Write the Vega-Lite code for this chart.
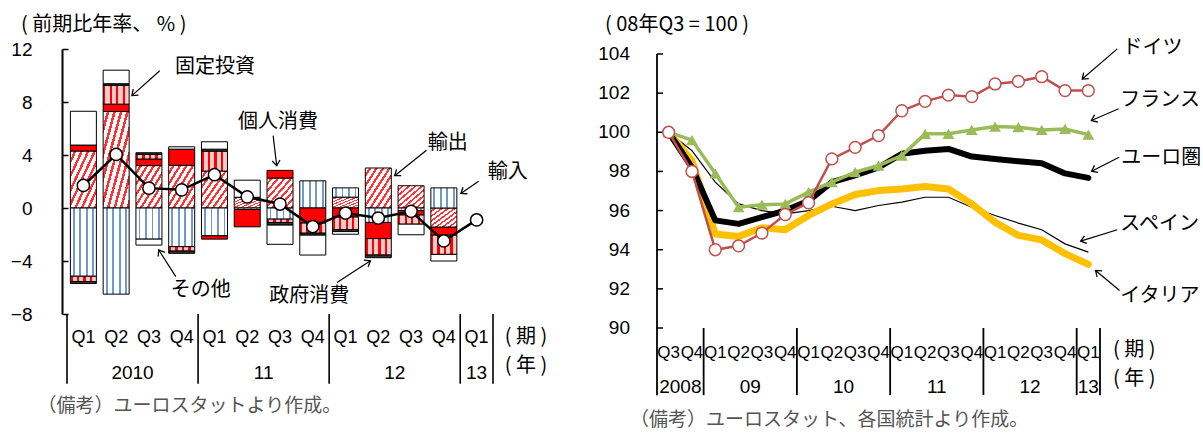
{
 "$schema": "https://vega.github.io/schema/vega-lite/v6.json",
 "background": "white",
 "padding": {"left": 10, "top": 14, "right": 0, "bottom": 0},
 "columns": 2,
 "align": "none",
 "bounds": "full",
 "spacing": 50,
 "config": {"view": {"stroke": null}},
 "concat": [
  {
   "width": 436, "height": 265,
   "layer": [
    {
     "data": {"values": [
      {"x":0.5,"c":"輸出","o":1,"v":4.3},{"x":0.5,"c":"輸入","o":2,"v":-5.15},{"x":0.5,"c":"個人消費","o":3,"v":0.45},{"x":0.5,"c":"固定投資","o":4,"v":-0.4},{"x":0.5,"c":"政府消費","o":5,"v":-0.15},{"x":0.5,"c":"その他","o":6,"v":2.55},
      {"x":1.5,"c":"輸出","o":1,"v":7.28},{"x":1.5,"c":"輸入","o":2,"v":-6.5},{"x":1.5,"c":"個人消費","o":3,"v":0.56},{"x":1.5,"c":"固定投資","o":4,"v":1.42},{"x":1.5,"c":"政府消費","o":5,"v":0.12},{"x":1.5,"c":"その他","o":6,"v":1.02},
      {"x":2.5,"c":"輸出","o":1,"v":3.2},{"x":2.5,"c":"輸入","o":2,"v":-2.35},{"x":2.5,"c":"個人消費","o":3,"v":0.5},{"x":2.5,"c":"固定投資","o":4,"v":0.35},{"x":2.5,"c":"政府消費","o":5,"v":0.12},{"x":2.5,"c":"その他","o":6,"v":-0.45},
      {"x":3.5,"c":"輸出","o":1,"v":3.22},{"x":3.5,"c":"輸入","o":2,"v":-2.92},{"x":3.5,"c":"個人消費","o":3,"v":1.22},{"x":3.5,"c":"固定投資","o":4,"v":-0.33},{"x":3.5,"c":"政府消費","o":5,"v":-0.17},{"x":3.5,"c":"その他","o":6,"v":0.18},
      {"x":4.5,"c":"輸出","o":1,"v":2.79},{"x":4.5,"c":"輸入","o":2,"v":-2.1},{"x":4.5,"c":"個人消費","o":3,"v":-0.25},{"x":4.5,"c":"固定投資","o":4,"v":1.5},{"x":4.5,"c":"政府消費","o":5,"v":0.15},{"x":4.5,"c":"その他","o":6,"v":0.56},
      {"x":5.5,"c":"輸出","o":1,"v":0.81},{"x":5.5,"c":"輸入","o":2,"v":-0.12},{"x":5.5,"c":"個人消費","o":3,"v":-1.3},{"x":5.5,"c":"その他","o":6,"v":1.29},
      {"x":6.5,"c":"輸出","o":1,"v":2.26},{"x":6.5,"c":"輸入","o":2,"v":-0.84},{"x":6.5,"c":"個人消費","o":3,"v":0.58},{"x":6.5,"c":"固定投資","o":4,"v":-0.25},{"x":6.5,"c":"政府消費","o":5,"v":-0.2},{"x":6.5,"c":"その他","o":6,"v":-1.45},
      {"x":7.5,"c":"輸入","o":2,"v":2.05},{"x":7.5,"c":"個人消費","o":3,"v":-1.14},{"x":7.5,"c":"固定投資","o":4,"v":-0.76},{"x":7.5,"c":"政府消費","o":5,"v":-0.15},{"x":7.5,"c":"その他","o":6,"v":-1.5},
      {"x":8.5,"c":"輸出","o":1,"v":0.82},{"x":8.5,"c":"輸入","o":2,"v":0.7},{"x":8.5,"c":"個人消費","o":3,"v":-0.68},{"x":8.5,"c":"固定投資","o":4,"v":-0.95},{"x":8.5,"c":"政府消費","o":5,"v":-0.15},{"x":8.5,"c":"その他","o":6,"v":-0.2},
      {"x":9.5,"c":"輸出","o":1,"v":3.02},{"x":9.5,"c":"輸入","o":2,"v":-1.09},{"x":9.5,"c":"個人消費","o":3,"v":-1.22},{"x":9.5,"c":"固定投資","o":4,"v":-1.24},{"x":9.5,"c":"政府消費","o":5,"v":-0.2},
      {"x":10.5,"c":"輸出","o":1,"v":1.68},{"x":10.5,"c":"輸入","o":2,"v":-0.2},{"x":10.5,"c":"個人消費","o":3,"v":-0.33},{"x":10.5,"c":"固定投資","o":4,"v":-0.69},{"x":10.5,"c":"その他","o":6,"v":-0.8},
      {"x":11.5,"c":"輸出","o":1,"v":-1.45},{"x":11.5,"c":"輸入","o":2,"v":1.52},{"x":11.5,"c":"個人消費","o":3,"v":-0.6},{"x":11.5,"c":"固定投資","o":4,"v":-1.45},{"x":11.5,"c":"その他","o":6,"v":-0.5}
     ]},
     "transform": [{"stack": "v", "groupby": ["x"], "sort": [{"field": "o", "order": "ascending"}], "as": ["v0", "v1"]}],
     "encoding": {
      "x": {"field": "x", "type": "quantitative", "scale": {"domain": [0, 13], "nice": false, "zero": false}, "axis": null},
      "y": {"field": "v0", "type": "quantitative", "title": null, "scale": {"domain": [-8, 12], "nice": false, "zero": false},
            "axis": {"values": [-8, -4, 0, 4, 8, 12], "title": null, "grid": false, "labelOverlap": false, "domainColor": "black", "domainWidth": 2, "tickColor": "black", "tickSize": -6, "tickWidth": 1.5, "labelFont": "Liberation Sans", "labelFontSize": 19, "labelColor": "black", "labelPadding": 36}},
      "y2": {"field": "v1"}
     },
     "layer": [
      {"transform": [{"filter": "datum.c === '輸出'"}],
       "mark": {"type": "bar", "width": 26, "stroke": "black", "strokeWidth": 1,
        "fill": {"gradient": "linear", "x1": 0, "y1": 0, "x2": 1, "y2": 1, "stops": [
         {"offset":0,"color":"#fff"},{"offset":0.07,"color":"#fff"},{"offset":0.07,"color":"#f33"},{"offset":0.12,"color":"#f33"},{"offset":0.12,"color":"#fff"},
         {"offset":0.195,"color":"#fff"},{"offset":0.195,"color":"#f33"},{"offset":0.245,"color":"#f33"},{"offset":0.245,"color":"#fff"},
         {"offset":0.32,"color":"#fff"},{"offset":0.32,"color":"#f33"},{"offset":0.37,"color":"#f33"},{"offset":0.37,"color":"#fff"},
         {"offset":0.445,"color":"#fff"},{"offset":0.445,"color":"#f33"},{"offset":0.495,"color":"#f33"},{"offset":0.495,"color":"#fff"},
         {"offset":0.57,"color":"#fff"},{"offset":0.57,"color":"#f33"},{"offset":0.62,"color":"#f33"},{"offset":0.62,"color":"#fff"},
         {"offset":0.695,"color":"#fff"},{"offset":0.695,"color":"#f33"},{"offset":0.745,"color":"#f33"},{"offset":0.745,"color":"#fff"},
         {"offset":0.82,"color":"#fff"},{"offset":0.82,"color":"#f33"},{"offset":0.87,"color":"#f33"},{"offset":0.87,"color":"#fff"},
         {"offset":0.945,"color":"#fff"},{"offset":0.945,"color":"#f33"},{"offset":0.995,"color":"#f33"},{"offset":0.995,"color":"#fff"},{"offset":1,"color":"#fff"}]}}},
      {"transform": [{"filter": "datum.c === '輸入'"}],
       "mark": {"type": "bar", "width": 26, "stroke": "black", "strokeWidth": 1,
        "fill": {"gradient": "linear", "x1": 0, "y1": 0, "x2": 1, "y2": 0, "stops": [
         {"offset":0,"color":"#fff"},{"offset":0.1,"color":"#fff"},{"offset":0.1,"color":"#6f9ad0"},{"offset":0.17,"color":"#6f9ad0"},{"offset":0.17,"color":"#fff"},
         {"offset":0.35,"color":"#fff"},{"offset":0.35,"color":"#6f9ad0"},{"offset":0.42,"color":"#6f9ad0"},{"offset":0.42,"color":"#fff"},
         {"offset":0.6,"color":"#fff"},{"offset":0.6,"color":"#6f9ad0"},{"offset":0.67,"color":"#6f9ad0"},{"offset":0.67,"color":"#fff"},
         {"offset":0.85,"color":"#fff"},{"offset":0.85,"color":"#6f9ad0"},{"offset":0.92,"color":"#6f9ad0"},{"offset":0.92,"color":"#fff"},{"offset":1,"color":"#fff"}]}}},
      {"transform": [{"filter": "datum.c === '個人消費'"}],
       "mark": {"type": "bar", "width": 26, "stroke": "black", "strokeWidth": 1, "fill": "#ff0000"}},
      {"transform": [{"filter": "datum.c === '固定投資'"}],
       "mark": {"type": "bar", "width": 26, "stroke": "black", "strokeWidth": 1,
        "fill": {"gradient": "linear", "x1": 0, "y1": 0, "x2": 1, "y2": 0, "stops": [
         {"offset":0,"color":"#f00"},{"offset":0.09,"color":"#f00"},{"offset":0.09,"color":"#fbcaca"},{"offset":0.25,"color":"#fbcaca"},{"offset":0.25,"color":"#f00"},
         {"offset":0.34,"color":"#f00"},{"offset":0.34,"color":"#fbcaca"},{"offset":0.5,"color":"#fbcaca"},{"offset":0.5,"color":"#f00"},
         {"offset":0.59,"color":"#f00"},{"offset":0.59,"color":"#fbcaca"},{"offset":0.75,"color":"#fbcaca"},{"offset":0.75,"color":"#f00"},
         {"offset":0.84,"color":"#f00"},{"offset":0.84,"color":"#fbcaca"},{"offset":1,"color":"#fbcaca"}]}}},
      {"transform": [{"filter": "datum.c === '政府消費'"}],
       "mark": {"type": "bar", "width": 26, "stroke": "black", "strokeWidth": 1, "fill": "#333333"}},
      {"transform": [{"filter": "datum.c === 'その他'"}],
       "mark": {"type": "bar", "width": 26, "stroke": "black", "strokeWidth": 1, "fill": "#ffffff"}}
     ]
    },
    {
     "mark": {"type": "rule", "color": "black", "strokeWidth": 2},
     "encoding": {"y": {"datum": 0, "type": "quantitative", "scale": {"domain": [-8, 12], "nice": false, "zero": false}}}
    },
    {
     "data": {"values": [
      {"x":0.5,"g":1.7},{"x":1.5,"g":4.04},{"x":2.5,"g":1.5},{"x":3.5,"g":1.37},{"x":4.5,"g":2.51},{"x":5.5,"g":0.84},{"x":6.5,"g":0.3},
      {"x":7.5,"g":-1.4},{"x":8.5,"g":-0.38},{"x":9.5,"g":-0.76},{"x":10.5,"g":-0.25},{"x":11.5,"g":-2.49},{"x":12.5,"g":-0.9}
     ]},
     "mark": {"type": "line", "color": "black", "strokeWidth": 2.5,
              "point": {"filled": true, "fill": "white", "stroke": "black", "strokeWidth": 1.5, "size": 150, "opacity": 1}},
     "encoding": {
      "x": {"field": "x", "type": "quantitative", "scale": {"domain": [0, 13], "nice": false, "zero": false}, "axis": null},
      "y": {"field": "g", "type": "quantitative", "title": null, "scale": {"domain": [-8, 12], "nice": false, "zero": false}}
     }
    },
    {
     "data": {"values": [{"x":0},{"x":4},{"x":8},{"x":12},{"x":13}]},
     "mark": {"type": "rule", "color": "black", "strokeWidth": 1.6},
     "encoding": {
      "x": {"field": "x", "type": "quantitative", "scale": {"domain": [0, 13], "nice": false, "zero": false}, "axis": null},
      "y": {"datum": -8, "type": "quantitative", "scale": {"domain": [-8, 12], "nice": false, "zero": false}},
      "y2": {"datum": -13.26}
     }
    },
    {
     "data": {"values": [
      {"x":0.5,"t":"Q1"},{"x":1.5,"t":"Q2"},{"x":2.5,"t":"Q3"},{"x":3.5,"t":"Q4"},{"x":4.5,"t":"Q1"},{"x":5.5,"t":"Q2"},{"x":6.5,"t":"Q3"},
      {"x":7.5,"t":"Q4"},{"x":8.5,"t":"Q1"},{"x":9.5,"t":"Q2"},{"x":10.5,"t":"Q3"},{"x":11.5,"t":"Q4"},{"x":12.5,"t":"Q1"}
     ]},
     "mark": {"type": "text", "font": "Liberation Sans", "fontSize": 18, "color": "black", "align": "center", "baseline": "middle"},
     "encoding": {
      "x": {"field": "x", "type": "quantitative", "scale": {"domain": [0, 13], "nice": false, "zero": false}, "axis": null},
      "y": {"datum": -9.83, "type": "quantitative", "scale": {"domain": [-8, 12], "nice": false, "zero": false}},
      "text": {"field": "t"}
     }
    },
    {
     "data": {"values": [{"x":2,"t":"2010"},{"x":6,"t":"11"},{"x":10,"t":"12"},{"x":12.5,"t":"13"}]},
     "mark": {"type": "text", "font": "Liberation Sans", "fontSize": 19, "color": "black", "align": "center", "baseline": "middle"},
     "encoding": {
      "x": {"field": "x", "type": "quantitative", "scale": {"domain": [0, 13], "nice": false, "zero": false}, "axis": null},
      "y": {"datum": -12.47, "type": "quantitative", "scale": {"domain": [-8, 12], "nice": false, "zero": false}},
      "text": {"field": "t"}
     }
    },
    {
     "data": {"values": [
      {"x":14.01,"y":-9.75,"t":"( 期 )"},
      {"x":14.01,"y":-11.94,"t":"( 年 )"}
     ]},
     "mark": {"type": "text", "font": "Noto Sans CJK JP", "fontSize": 20, "color": "black", "align": "center", "baseline": "middle"},
     "encoding": {
      "x": {"field": "x", "type": "quantitative", "scale": {"domain": [0, 13], "nice": false, "zero": false}, "axis": null},
      "y": {"field": "y", "type": "quantitative", "scale": {"domain": [-8, 12], "nice": false, "zero": false}},
      "text": {"field": "t"}
     }
    },
    {
     "data": {"values": [{"x":-1.4,"y":13.83,"t":"( 前期比年率、 % )"}]},
     "mark": {"type": "text", "font": "Noto Sans CJK JP", "fontSize": 20, "color": "black", "align": "left", "baseline": "middle"},
     "encoding": {
      "x": {"field": "x", "type": "quantitative", "scale": {"domain": [0, 13], "nice": false, "zero": false}, "axis": null},
      "y": {"field": "y", "type": "quantitative", "scale": {"domain": [-8, 12], "nice": false, "zero": false}},
      "text": {"field": "t"}
     }
    },
    {
     "data": {"values": [{"x":-0.9,"y":-14.92,"t":"（備考）ユーロスタットより作成。"}]},
     "mark": {"type": "text", "font": "Noto Sans CJK JP", "fontSize": 19, "color": "#555555", "align": "left", "baseline": "middle"},
     "encoding": {
      "x": {"field": "x", "type": "quantitative", "scale": {"domain": [0, 13], "nice": false, "zero": false}, "axis": null},
      "y": {"field": "y", "type": "quantitative", "scale": {"domain": [-8, 12], "nice": false, "zero": false}},
      "text": {"field": "t"}
     }
    },
    {
     "data": {"values": [
      {"t":"固定投資","tx":4.52,"ty":10.61,"x1":2.83,"y1":10.36,"x2":1.98,"y2":8.48,"a":139},
      {"t":"個人消費","tx":6.44,"ty":6.51,"x1":6.29,"y1":5.46,"x2":6.4,"y2":3.19,"a":83},
      {"t":"輸出","tx":11.62,"ty":4.93,"x1":10.97,"y1":4.36,"x2":10.0,"y2":2.44,"a":143},
      {"t":"輸入","tx":13.45,"ty":2.74,"x1":12.56,"y1":2.01,"x2":12.02,"y2":1.1,"a":146},
      {"t":"その他","tx":4.08,"ty":-6.17,"x1":3.32,"y1":-5.18,"x2":2.8,"y2":-3.17,"a":238},
      {"t":"政府消費","tx":7.39,"ty":-6.66,"x1":8.24,"y1":-5.62,"x2":9.26,"y2":-3.98,"a":-32}
     ]},
     "layer": [
      {"mark": {"type": "rule", "color": "black", "strokeWidth": 1.2},
       "encoding": {
        "x": {"field": "x1", "type": "quantitative", "scale": {"domain": [0, 13], "nice": false, "zero": false}, "axis": null},
        "y": {"field": "y1", "type": "quantitative", "scale": {"domain": [-8, 12], "nice": false, "zero": false}},
        "x2": {"field": "x2"}, "y2": {"field": "y2"}}},
      {"mark": {"type": "point", "shape": "M-1,-0.75L0,0L-1,0.75", "filled": false, "stroke": "black", "strokeWidth": 1.3, "size": 110, "opacity": 1},
       "encoding": {
        "x": {"field": "x2", "type": "quantitative", "scale": {"domain": [0, 13], "nice": false, "zero": false}, "axis": null},
        "y": {"field": "y2", "type": "quantitative", "scale": {"domain": [-8, 12], "nice": false, "zero": false}},
        "angle": {"field": "a", "type": "quantitative", "scale": null}}},
      {"mark": {"type": "text", "font": "Noto Sans CJK JP", "fontSize": 20, "color": "black", "align": "center", "baseline": "middle"},
       "encoding": {
        "x": {"field": "tx", "type": "quantitative", "scale": {"domain": [0, 13], "nice": false, "zero": false}, "axis": null},
        "y": {"field": "ty", "type": "quantitative", "scale": {"domain": [-8, 12], "nice": false, "zero": false}},
        "text": {"field": "t"}}}
     ]
    }
   ]
  },
  {
   "width": 443, "height": 279,
   "layer": [
    {
     "mark": {"type": "rule", "color": "black", "strokeWidth": 1.6},
     "encoding": {"y": {"datum": 100, "type": "quantitative", "scale": {"domain": [90, 104.255], "nice": false, "zero": false}, "axis": null}}
    },
    {
     "data": {"values": [{"y":90},{"y":92},{"y":94},{"y":96},{"y":98},{"y":100},{"y":102},{"y":104}]},
     "layer": [
      {"mark": {"type": "rule", "color": "black", "strokeWidth": 1.5},
       "encoding": {
        "x": {"datum": 0, "type": "quantitative", "scale": {"domain": [0, 19], "nice": false, "zero": false}, "axis": null},
        "x2": {"datum": 0.26},
        "y": {"field": "y", "type": "quantitative", "scale": {"domain": [90, 104.255], "nice": false, "zero": false}, "axis": null}}},
      {"mark": {"type": "text", "font": "Liberation Sans", "fontSize": 19, "color": "black", "align": "right", "baseline": "middle"},
       "encoding": {
        "x": {"datum": -1.16, "type": "quantitative", "scale": {"domain": [0, 19], "nice": false, "zero": false}, "axis": null},
        "y": {"field": "y", "type": "quantitative", "scale": {"domain": [90, 104.255], "nice": false, "zero": false}, "axis": null},
        "text": {"field": "y", "type": "quantitative"}}}
     ]
    },
    {
     "data": {"values": [
      {"c":"ES","x":0.5,"v":100},{"c":"ES","x":1.5,"v":99.06},{"c":"ES","x":2.5,"v":97.45},{"c":"ES","x":3.5,"v":96.34},{"c":"ES","x":4.5,"v":96.0},{"c":"ES","x":5.5,"v":95.83},{"c":"ES","x":6.5,"v":96.0},{"c":"ES","x":7.5,"v":96.22},{"c":"ES","x":8.5,"v":96.0},{"c":"ES","x":9.5,"v":96.26},{"c":"ES","x":10.5,"v":96.43},{"c":"ES","x":11.5,"v":96.68},{"c":"ES","x":12.5,"v":96.68},{"c":"ES","x":13.5,"v":96.17},{"c":"ES","x":14.5,"v":95.75},{"c":"ES","x":15.5,"v":95.36},{"c":"ES","x":16.5,"v":95.02},{"c":"ES","x":17.5,"v":94.3},{"c":"ES","x":18.5,"v":93.88},
      {"c":"IT","x":0.5,"v":100},{"c":"IT","x":1.5,"v":98.55},{"c":"IT","x":2.5,"v":94.8},{"c":"IT","x":3.5,"v":94.68},{"c":"IT","x":4.5,"v":95.12},{"c":"IT","x":5.5,"v":95.02},{"c":"IT","x":6.5,"v":95.75},{"c":"IT","x":7.5,"v":96.34},{"c":"IT","x":8.5,"v":96.82},{"c":"IT","x":9.5,"v":97.02},{"c":"IT","x":10.5,"v":97.1},{"c":"IT","x":11.5,"v":97.23},{"c":"IT","x":12.5,"v":97.1},{"c":"IT","x":13.5,"v":96.34},{"c":"IT","x":14.5,"v":95.4},{"c":"IT","x":15.5,"v":94.73},{"c":"IT","x":16.5,"v":94.5},{"c":"IT","x":17.5,"v":93.8},{"c":"IT","x":18.5,"v":93.25},
      {"c":"EA","x":0.5,"v":100},{"c":"EA","x":1.5,"v":98.2},{"c":"EA","x":2.5,"v":95.5},{"c":"EA","x":3.5,"v":95.32},{"c":"EA","x":4.5,"v":95.66},{"c":"EA","x":5.5,"v":96.0},{"c":"EA","x":6.5,"v":96.5},{"c":"EA","x":7.5,"v":97.45},{"c":"EA","x":8.5,"v":97.8},{"c":"EA","x":9.5,"v":98.2},{"c":"EA","x":10.5,"v":98.9},{"c":"EA","x":11.5,"v":99.06},{"c":"EA","x":12.5,"v":99.15},{"c":"EA","x":13.5,"v":98.76},{"c":"EA","x":14.5,"v":98.64},{"c":"EA","x":15.5,"v":98.52},{"c":"EA","x":16.5,"v":98.42},{"c":"EA","x":17.5,"v":97.9},{"c":"EA","x":18.5,"v":97.67},
      {"c":"FR","x":0.5,"v":100},{"c":"FR","x":1.5,"v":99.6},{"c":"FR","x":2.5,"v":97.9},{"c":"FR","x":3.5,"v":96.17},{"c":"FR","x":4.5,"v":96.3},{"c":"FR","x":5.5,"v":96.34},{"c":"FR","x":6.5,"v":96.94},{"c":"FR","x":7.5,"v":97.45},{"c":"FR","x":8.5,"v":97.96},{"c":"FR","x":9.5,"v":98.3},{"c":"FR","x":10.5,"v":98.81},{"c":"FR","x":11.5,"v":99.92},{"c":"FR","x":12.5,"v":99.92},{"c":"FR","x":13.5,"v":100.12},{"c":"FR","x":14.5,"v":100.29},{"c":"FR","x":15.5,"v":100.26},{"c":"FR","x":16.5,"v":100.12},{"c":"FR","x":17.5,"v":100.17},{"c":"FR","x":18.5,"v":99.88},
      {"c":"DE","x":0.5,"v":100},{"c":"DE","x":1.5,"v":98.0},{"c":"DE","x":2.5,"v":94.0},{"c":"DE","x":3.5,"v":94.2},{"c":"DE","x":4.5,"v":94.85},{"c":"DE","x":5.5,"v":95.8},{"c":"DE","x":6.5,"v":96.4},{"c":"DE","x":7.5,"v":98.64},{"c":"DE","x":8.5,"v":99.23},{"c":"DE","x":9.5,"v":99.83},{"c":"DE","x":10.5,"v":101.1},{"c":"DE","x":11.5,"v":101.58},{"c":"DE","x":12.5,"v":101.9},{"c":"DE","x":13.5,"v":101.82},{"c":"DE","x":14.5,"v":102.47},{"c":"DE","x":15.5,"v":102.6},{"c":"DE","x":16.5,"v":102.84},{"c":"DE","x":17.5,"v":102.13},{"c":"DE","x":18.5,"v":102.13}
     ]},
     "encoding": {
      "x": {"field": "x", "type": "quantitative", "scale": {"domain": [0, 19], "nice": false, "zero": false}, "axis": null},
      "y": {"field": "v", "type": "quantitative", "title": null, "scale": {"domain": [90, 104.255], "nice": false, "zero": false}, "axis": null}
     },
     "layer": [
      {"transform": [{"filter": "datum.c === 'ES'"}], "mark": {"type": "line", "color": "black", "strokeWidth": 1.2}},
      {"transform": [{"filter": "datum.c === 'IT'"}], "mark": {"type": "line", "color": "#ffc000", "strokeWidth": 7, "strokeCap": "round", "strokeJoin": "round"}},
      {"transform": [{"filter": "datum.c === 'EA'"}], "mark": {"type": "line", "color": "black", "strokeWidth": 6, "strokeCap": "round", "strokeJoin": "round"}},
      {"transform": [{"filter": "datum.c === 'FR'"}], "mark": {"type": "line", "color": "#9bbb59", "strokeWidth": 3.5,
        "point": {"shape": "triangle-up", "filled": true, "color": "#9bbb59", "size": 140, "opacity": 1}}},
      {"transform": [{"filter": "datum.c === 'DE'"}], "mark": {"type": "line", "color": "#c0504d", "strokeWidth": 2.5,
        "point": {"filled": true, "fill": "white", "stroke": "#c0504d", "strokeWidth": 1.5, "size": 140, "opacity": 1}}}
     ]
    },
    {
     "data": {"values": [{"x":0,"y":104},{"x":2,"y":90},{"x":6,"y":90},{"x":10,"y":90},{"x":14,"y":90},{"x":18,"y":90},{"x":19,"y":90}]},
     "mark": {"type": "rule", "color": "black", "strokeWidth": 1.8},
     "encoding": {
      "x": {"field": "x", "type": "quantitative", "scale": {"domain": [0, 19], "nice": false, "zero": false}, "axis": null},
      "y": {"field": "y", "type": "quantitative", "scale": {"domain": [90, 104.255], "nice": false, "zero": false}, "axis": null},
      "y2": {"datum": 86.57}
     }
    },
    {
     "data": {"values": [
      {"x":0.5,"t":"Q3"},{"x":1.5,"t":"Q4"},{"x":2.5,"t":"Q1"},{"x":3.5,"t":"Q2"},{"x":4.5,"t":"Q3"},{"x":5.5,"t":"Q4"},{"x":6.5,"t":"Q1"},{"x":7.5,"t":"Q2"},{"x":8.5,"t":"Q3"},{"x":9.5,"t":"Q4"},
      {"x":10.5,"t":"Q1"},{"x":11.5,"t":"Q2"},{"x":12.5,"t":"Q3"},{"x":13.5,"t":"Q4"},{"x":14.5,"t":"Q1"},{"x":15.5,"t":"Q2"},{"x":16.5,"t":"Q3"},{"x":17.5,"t":"Q4"},{"x":18.5,"t":"Q1"}
     ]},
     "mark": {"type": "text", "font": "Liberation Sans", "fontSize": 17, "color": "black", "align": "center", "baseline": "middle"},
     "encoding": {
      "x": {"field": "x", "type": "quantitative", "scale": {"domain": [0, 19], "nice": false, "zero": false}, "axis": null},
      "y": {"datum": 88.73, "type": "quantitative", "scale": {"domain": [90, 104.255], "nice": false, "zero": false}, "axis": null},
      "text": {"field": "t"}
     }
    },
    {
     "data": {"values": [{"x":1,"t":"2008"},{"x":4,"t":"09"},{"x":8,"t":"10"},{"x":12,"t":"11"},{"x":16,"t":"12"},{"x":18.5,"t":"13"}]},
     "mark": {"type": "text", "font": "Liberation Sans", "fontSize": 19, "color": "black", "align": "center", "baseline": "middle"},
     "encoding": {
      "x": {"field": "x", "type": "quantitative", "scale": {"domain": [0, 19], "nice": false, "zero": false}, "axis": null},
      "y": {"datum": 86.99, "type": "quantitative", "scale": {"domain": [90, 104.255], "nice": false, "zero": false}, "axis": null},
      "text": {"field": "t"}
     }
    },
    {
     "data": {"values": [{"x":20.47,"y":88.86,"t":"( 期 )"},{"x":20.47,"y":87.41,"t":"( 年 )"}]},
     "mark": {"type": "text", "font": "Noto Sans CJK JP", "fontSize": 20, "color": "black", "align": "center", "baseline": "middle"},
     "encoding": {
      "x": {"field": "x", "type": "quantitative", "scale": {"domain": [0, 19], "nice": false, "zero": false}, "axis": null},
      "y": {"field": "y", "type": "quantitative", "scale": {"domain": [90, 104.255], "nice": false, "zero": false}, "axis": null},
      "text": {"field": "t"}
     }
    },
    {
     "data": {"values": [{"x":-2.23,"y":105.49,"t":"( 08年Q3 = 100 )"}]},
     "mark": {"type": "text", "font": "Noto Sans CJK JP", "fontSize": 20, "color": "black", "align": "left", "baseline": "middle"},
     "encoding": {
      "x": {"field": "x", "type": "quantitative", "scale": {"domain": [0, 19], "nice": false, "zero": false}, "axis": null},
      "y": {"field": "y", "type": "quantitative", "scale": {"domain": [90, 104.255], "nice": false, "zero": false}, "axis": null},
      "text": {"field": "t"}
     }
    },
    {
     "data": {"values": [{"x":-1.16,"y":85.29,"t":"（備考）ユーロスタット、各国統計より作成。"}]},
     "mark": {"type": "text", "font": "Noto Sans CJK JP", "fontSize": 19, "color": "#555555", "align": "left", "baseline": "middle"},
     "encoding": {
      "x": {"field": "x", "type": "quantitative", "scale": {"domain": [0, 19], "nice": false, "zero": false}, "axis": null},
      "y": {"field": "y", "type": "quantitative", "scale": {"domain": [90, 104.255], "nice": false, "zero": false}, "axis": null},
      "text": {"field": "t"}
     }
    },
    {
     "data": {"values": [
      {"t":"ドイツ","tx":19.96,"ty":104.32,"x1":19.74,"y1":104.26,"x2":18.24,"y2":102.72,"a":139},
      {"t":"フランス","tx":19.87,"ty":101.67,"x1":19.8,"y1":101.2,"x2":18.63,"y2":100.6,"a":156},
      {"t":"ユーロ圏","tx":19.91,"ty":98.68,"x1":19.82,"y1":98.72,"x2":18.64,"y2":98.01,"a":153},
      {"t":"スペイン","tx":19.87,"ty":95.29,"x1":19.74,"y1":95.02,"x2":18.17,"y2":94.44,"a":163},
      {"t":"イタリア","tx":19.87,"ty":91.62,"x1":19.84,"y1":91.92,"x2":18.81,"y2":92.94,"a":220}
     ]},
     "layer": [
      {"mark": {"type": "rule", "color": "black", "strokeWidth": 1.2},
       "encoding": {
        "x": {"field": "x1", "type": "quantitative", "scale": {"domain": [0, 19], "nice": false, "zero": false}, "axis": null},
        "y": {"field": "y1", "type": "quantitative", "scale": {"domain": [90, 104.255], "nice": false, "zero": false}, "axis": null},
        "x2": {"field": "x2"}, "y2": {"field": "y2"}}},
      {"mark": {"type": "point", "shape": "M-1,-0.75L0,0L-1,0.75", "filled": false, "stroke": "black", "strokeWidth": 1.3, "size": 110, "opacity": 1},
       "encoding": {
        "x": {"field": "x2", "type": "quantitative", "scale": {"domain": [0, 19], "nice": false, "zero": false}, "axis": null},
        "y": {"field": "y2", "type": "quantitative", "scale": {"domain": [90, 104.255], "nice": false, "zero": false}, "axis": null},
        "angle": {"field": "a", "type": "quantitative", "scale": null}}},
      {"mark": {"type": "text", "font": "Noto Sans CJK JP", "fontSize": 20, "color": "black", "align": "left", "baseline": "middle"},
       "encoding": {
        "x": {"field": "tx", "type": "quantitative", "scale": {"domain": [0, 19], "nice": false, "zero": false}, "axis": null},
        "y": {"field": "ty", "type": "quantitative", "scale": {"domain": [90, 104.255], "nice": false, "zero": false}, "axis": null},
        "text": {"field": "t"}}}
     ]
    }
   ]
  }
 ]
}
